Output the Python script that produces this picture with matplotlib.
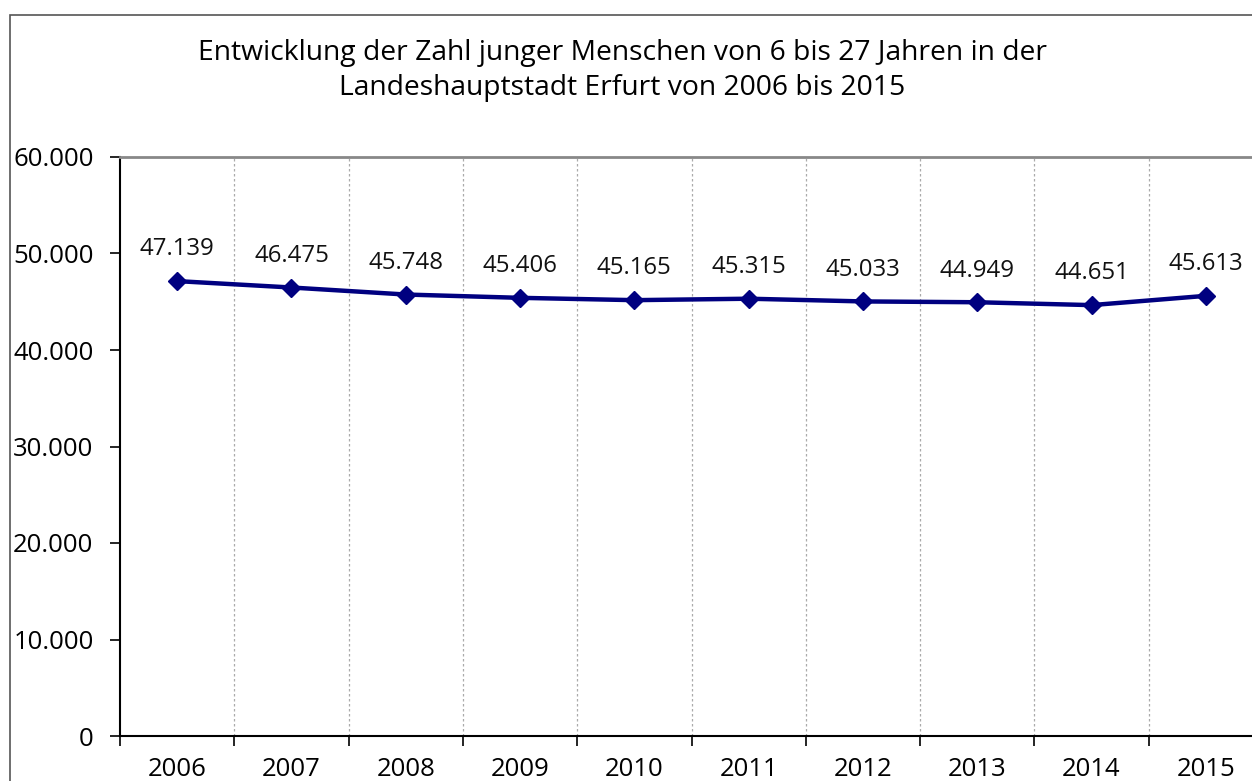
import matplotlib
matplotlib.use("Agg")
import matplotlib.pyplot as plt
from matplotlib.patches import Rectangle
from matplotlib.ticker import FuncFormatter, FixedLocator

years = ["2006", "2007", "2008", "2009", "2010", "2011", "2012", "2013", "2014", "2015"]
values = [47139, 46475, 45748, 45406, 45165, 45315, 45033, 44949, 44651, 45613]
title = "Entwicklung der Zahl junger Menschen von 6 bis 27 Jahren in der\nLandeshauptstadt Erfurt von 2006 bis 2015"

plt.rcParams['font.family'] = ['Open Sans', 'DejaVu Sans']

W, H = 1252, 781
fig = plt.figure(figsize=(W / 100, H / 100), dpi=100)

# outer chart border (extends beyond the cropped image)
fig.patches.append(Rectangle((9.5 / W, -0.1), 2.0, (H - 14.5) / H + 0.1,
                             transform=fig.transFigure, fill=False,
                             edgecolor="#555555", linewidth=1.2))

ax = fig.add_axes([120 / W, 1 - 736 / H, (1263 - 120) / W, (736 - 157) / H])

x = list(range(len(years)))
ax.plot(x, values, color="#000080", linewidth=3.2, marker="D", markersize=9,
        markerfacecolor="#000080", markeredgecolor="#000080", zorder=3)

for xi, v in zip(x, values):
    ax.annotate(f"{v:,}".replace(",", "."), (xi, v), xytext=(0, 18.5),
                textcoords="offset points", ha="center", va="baseline",
                fontsize=17.3, color="#111111")

ax.set_xlim(-0.5, len(years) - 0.5)
ax.set_ylim(0, 60000)
ax.set_yticks(range(0, 60001, 10000))
ax.yaxis.set_major_formatter(FuncFormatter(lambda v, p: f"{int(v):,}".replace(",", ".")))

ax.set_xticks(x)
ax.set_xticklabels(years)
ax.xaxis.set_minor_locator(FixedLocator([i + 0.5 for i in range(-1, len(years))]))
ax.tick_params(axis="x", which="major", length=0, pad=15, labelsize=18.5)
ax.tick_params(axis="x", which="minor", length=7, width=1.2, direction="out", color="black")
ax.tick_params(axis="y", which="major", length=7, width=1.2, direction="out", pad=12,
               labelsize=18.5, color="black")

ax.grid(False)
for b in [i + 0.5 for i in range(len(years))]:
    ax.axvline(b, color="#aaaaaa", linestyle=(0, (2, 2)), linewidth=0.9, zorder=1)

ax.spines["left"].set_color("black")
ax.spines["left"].set_linewidth(1.5)
ax.spines["bottom"].set_color("black")
ax.spines["bottom"].set_linewidth(1.5)
ax.spines["top"].set_color("#888888")
ax.spines["top"].set_linewidth(2)
ax.spines["right"].set_visible(False)

fig.text(622 / W, 1 - 70.5 / H, title, ha="center", va="center", fontsize=20.3,
         linespacing=1.38, color="black")

fig.savefig("out.png", dpi=100)
